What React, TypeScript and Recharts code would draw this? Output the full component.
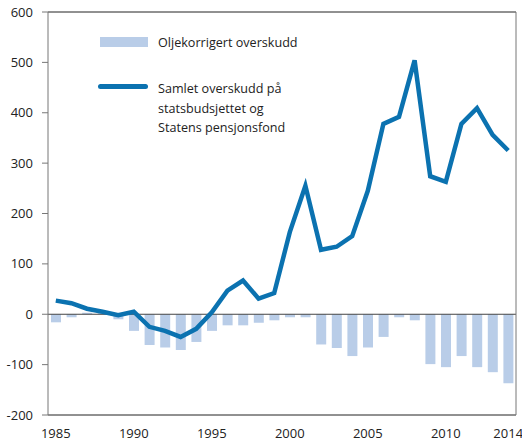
import React from "react";
import {
    Bar,
    ComposedChart,
    Legend,
    Line,
    ReferenceLine,
    XAxis,
    YAxis,
} from "recharts";

const years = [
    1985, 1986, 1987, 1988, 1989, 1990, 1991, 1992, 1993, 1994, 1995, 1996,
    1997, 1998, 1999, 2000, 2001, 2002, 2003, 2004, 2005, 2006, 2007, 2008,
    2009, 2010, 2011, 2012, 2013, 2014,
];

// Oljekorrigert overskudd (bars)
const oilCorrected = [
    -16, -6, 3, 2, -10, -33, -61, -66, -71, -55, -33, -22, -22, -17, -12, -6,
    -6, -60, -67, -83, -66, -45, -6, -12, -99, -105, -83, -105, -115, -137,
];

// Samlet overskudd på statsbudsjettet og Statens pensjonsfond (line)
const totalSurplus = [
    27, 22, 11, 5, -2, 5, -25, -33, -45, -29, 4, 47, 67, 31, 42, 163, 255, 128,
    134, 155, 245, 378, 392, 504, 274, 263, 378, 409, 356, 325,
];

const yTicks = [-200, -100, 0, 100, 200, 300, 400, 500, 600];
const xLabels = [1985, 1990, 1995, 2000, 2005, 2010, 2014];

const data = years.map((year, i) => ({
    year,
    oil: oilCorrected[i],
    total: totalSurplus[i],
}));

const BAR_COLOR = "#b9cde8";
const LINE_COLOR = "#0b72b0";
const FONT = "'Open Sans', sans-serif";

const LegendBox = () => (
    <div
        style={{
            position: "relative",
            width: 260,
            height: 120,
            fontFamily: FONT,
            fontSize: 12.6,
            color: "#222",
            textAlign: "left",
        }}
    >
        <div
            style={{
                position: "absolute",
                left: 10,
                top: 12,
                width: 48,
                height: 10,
                background: BAR_COLOR,
            }}
        />
        <div style={{ position: "absolute", left: 68, top: 8, lineHeight: "19.5px" }}>
            Oljekorrigert overskudd
        </div>
        <div
            style={{
                position: "absolute",
                left: 8,
                top: 59,
                width: 50,
                height: 5,
                borderRadius: 3,
                background: LINE_COLOR,
            }}
        />
        <div style={{ position: "absolute", left: 68, top: 54, lineHeight: "19.5px" }}>
            Samlet overskudd på
            <br />
            statsbudsjettet og
            <br />
            Statens pensjonsfond
        </div>
    </div>
);

export default function App() {
    return (
        <div style={{ position: "absolute", left: 0, top: 0, background: "#fff" }}>
            <ComposedChart
                width={522}
                height={442}
                data={data}
                margin={{ top: 12, right: 0, bottom: 0, left: 8 }}
                barSize={10}
            >
                <XAxis
                    dataKey="year"
                    interval={0}
                    tickLine={false}
                    tickSize={6}
                    tickMargin={8}
                    height={27}
                    stroke="#222"
                    tick={{ fill: "#222", fontSize: 13, fontFamily: FONT }}
                    tickFormatter={(v) => (xLabels.includes(v) ? String(v) : "")}
                />
                <YAxis
                    yAxisId="left"
                    domain={[-200, 600]}
                    ticks={yTicks}
                    width={40}
                    tickSize={6}
                    tickMargin={9}
                    stroke="#777"
                    tick={{ fill: "#222", fontSize: 13, fontFamily: FONT }}
                />
                <YAxis
                    yAxisId="right"
                    orientation="right"
                    domain={[-200, 600]}
                    ticks={yTicks}
                    width={6}
                    tickSize={6}
                    tick={false}
                    stroke="#777"
                />
                <Legend
                    layout="horizontal"
                    verticalAlign="middle"
                    align="center"
                    wrapperStyle={{ top: 25, left: 90, width: 260 }}
                    content={() => <LegendBox />}
                />
                <Bar
                    yAxisId="left"
                    dataKey="oil"
                    fill={BAR_COLOR}
                    isAnimationActive={false}
                />
                <ReferenceLine yAxisId="left" y={600} stroke="#222" strokeWidth={1} />
                <ReferenceLine yAxisId="left" y={0} stroke="#444" strokeWidth={1} />
                <Line
                    yAxisId="left"
                    type="linear"
                    dataKey="total"
                    stroke={LINE_COLOR}
                    strokeWidth={4.5}
                    dot={false}
                    isAnimationActive={false}
                />
            </ComposedChart>
        </div>
    );
}
